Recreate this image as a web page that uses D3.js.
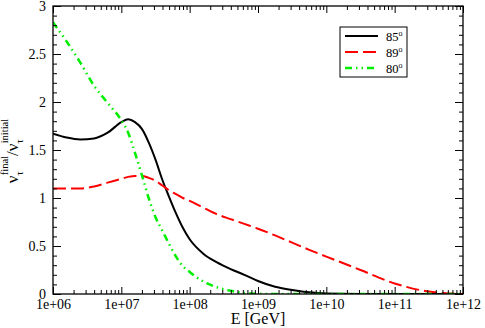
<!DOCTYPE html>
<html>
<head>
<meta charset="utf-8">
<script src="https://cdn.jsdelivr.net/npm/d3@7"></script>
<style>
  body { margin: 0; background: #fff; }
  svg, svg text { font-family: "Liberation Serif", "Times New Roman", serif !important; }
</style>
</head>
<body>
<div id="chart"></div>
<script>
// log10(E / GeV) grid the curves were read on
var logE = [6.0, 6.2, 6.4, 6.6, 6.8, 7.0, 7.1, 7.2, 7.3, 7.4, 7.5, 7.6, 7.7, 7.8, 7.9,
            8.0, 8.2, 8.4, 8.6, 8.8, 9.0, 9.25, 9.5, 9.75, 10.0, 10.5, 11.0, 11.5, 11.75, 12.0];

var ratio85 = [1.67, 1.63, 1.61, 1.62, 1.68, 1.79, 1.82, 1.79, 1.72, 1.58, 1.40, 1.19, 1.01, 0.84, 0.69,
               0.57, 0.42, 0.33, 0.26, 0.20, 0.135, 0.075, 0.042, 0.017, 0.005, 0.001, 0, 0, 0, 0];
var ratio89 = [1.10, 1.10, 1.10, 1.12, 1.16, 1.20, 1.22, 1.23, 1.23, 1.21, 1.18, 1.13, 1.08, 1.04, 1.00,
               0.97, 0.90, 0.83, 0.78, 0.73, 0.68, 0.61, 0.535, 0.46, 0.39, 0.25, 0.11, 0.025, 0.008, 0];
var ratio80 = [2.83, 2.63, 2.41, 2.17, 1.99, 1.81, 1.68, 1.47, 1.24, 1.00, 0.80, 0.66, 0.52, 0.39, 0.29,
               0.23, 0.13, 0.07, 0.033, 0.01, 0.003, 0, 0, 0, 0, 0, 0, 0, 0, 0];

var seriesNames = ["85", "89", "80"];
var xTickLabels = ["1e+06", "1e+07", "1e+08", "1e+09", "1e+10", "1e+11", "1e+12"];
var yTickLabels = ["0", "0.5", "1", "1.5", "2", "2.5", "3"];

var width = 485, height = 328;
var marginTop = 6, marginRight = 22, marginBottom = 34, marginLeft = 53;
var serif = "'Liberation Serif', 'Times New Roman', serif";

var series = [
    {name: seriesNames[0], values: ratio85, color: "#000000", dash: null, lw: 2},
    {name: seriesNames[1], values: ratio89, color: "#ff0000", dash: "13,5", lw: 2},
    {name: seriesNames[2], values: ratio80, color: "#00ee00", dash: "7,4,1.5,4,1.5,4", lw: 2.5}
];

var xTicks = xTickLabels.map(function(s) { return Number(s); });
var yTicks = yTickLabels.map(function(s) { return Number(s); });

var xScale = d3.scaleLog([1e6, 1e12], [marginLeft, width - marginRight]);
var yScale = d3.scaleLinear([0, 3], [height - marginBottom, marginTop]);

var xMinor = [];
for (var d = 6; d < 12; d++) {
    for (var k = 2; k <= 9; k++) xMinor.push(k * Math.pow(10, d));
}
var yMinor = d3.range(0, 3.0001, 0.1).filter(function(v) { return Math.abs(v * 2 - Math.round(v * 2)) > 1e-6; });

var svg = d3.select("#chart").append("svg")
    .attr("width", width)
    .attr("height", height)
    .attr("viewBox", [0, 0, width, height])
    .style("font-family", serif);

// clip curves to plot box
svg.append("clipPath").attr("id", "plotClip")
  .append("rect")
    .attr("x", marginLeft).attr("y", marginTop)
    .attr("width", width - marginLeft - marginRight)
    .attr("height", height - marginTop - marginBottom);

var line = d3.line()
    .x(function(p) { return xScale(Math.pow(10, p[0])); })
    .y(function(p) { return yScale(p[1]); })
    .curve(d3.curveMonotoneX);

svg.append("g").attr("clip-path", "url(#plotClip)")
  .selectAll("path")
  .data(series)
  .join("path")
    .attr("fill", "none")
    .attr("stroke", function(s) { return s.color; })
    .attr("stroke-width", function(s) { return s.lw; })
    .attr("stroke-dasharray", function(s) { return s.dash; })
    .attr("d", function(s) { return line(logE.map(function(e, i) { return [e, s.values[i]]; })); });

// axes: ticks point inward, mirrored on top and right
function styleAxis(g) {
    g.attr("font-family", null).style("font-family", serif);
    g.select(".domain").remove();
    g.selectAll(".tick line").attr("stroke", "#000").attr("stroke-width", 1);
    g.selectAll(".tick text").attr("fill", "#000").attr("font-size", 14)
        .style("font-family", serif);
}

svg.append("g")
    .attr("transform", "translate(0," + yScale(0) + ")")
    .call(d3.axisBottom(xScale).tickValues(xTicks).tickSize(-7).tickPadding(5)
        .tickFormat(function(v, i) { return xTickLabels[i]; }))
    .call(styleAxis);
svg.append("g")
    .attr("transform", "translate(0," + yScale(0) + ")")
    .call(d3.axisBottom(xScale).tickValues(xMinor).tickSize(-4).tickFormat(""))
    .call(styleAxis);
svg.append("g")
    .attr("transform", "translate(0," + yScale(3) + ")")
    .call(d3.axisTop(xScale).tickValues(xTicks).tickSize(-7).tickFormat(""))
    .call(styleAxis);
svg.append("g")
    .attr("transform", "translate(0," + yScale(3) + ")")
    .call(d3.axisTop(xScale).tickValues(xMinor).tickSize(-4).tickFormat(""))
    .call(styleAxis);

svg.append("g")
    .attr("transform", "translate(" + xScale(1e6) + ",0)")
    .call(d3.axisLeft(yScale).tickValues(yTicks).tickSize(-8).tickPadding(7)
        .tickFormat(function(v, i) { return yTickLabels[i]; }))
    .call(styleAxis);
svg.append("g")
    .attr("transform", "translate(" + xScale(1e6) + ",0)")
    .call(d3.axisLeft(yScale).tickValues(yMinor).tickSize(-4).tickFormat(""))
    .call(styleAxis);
svg.append("g")
    .attr("transform", "translate(" + xScale(1e12) + ",0)")
    .call(d3.axisRight(yScale).tickValues(yTicks).tickSize(-8).tickFormat(""))
    .call(styleAxis);
svg.append("g")
    .attr("transform", "translate(" + xScale(1e12) + ",0)")
    .call(d3.axisRight(yScale).tickValues(yMinor).tickSize(-4).tickFormat(""))
    .call(styleAxis);

// frame
svg.append("rect")
    .attr("x", xScale(1e6)).attr("y", yScale(3))
    .attr("width", xScale(1e12) - xScale(1e6))
    .attr("height", yScale(0) - yScale(3))
    .attr("fill", "none").attr("stroke", "#000").attr("stroke-width", 1.3);

// axis titles
svg.append("text")
    .attr("x", (xScale(1e6) + xScale(1e12)) / 2)
    .attr("y", 324)
    .attr("text-anchor", "middle")
    .attr("font-size", 16)
    .text("E [GeV]");

var ylab = svg.append("text")
    .attr("transform", "translate(18,151) rotate(-90)")
    .attr("text-anchor", "middle")
    .attr("font-size", 17);
ylab.append("tspan").text("ν");
ylab.append("tspan").attr("font-size", 10.5).attr("dy", 5).text("τ");
ylab.append("tspan").attr("font-size", 10.5).attr("dx", -4).attr("dy", -15.5).text("final");
ylab.append("tspan").attr("dy", 10.5).text("/ν");
ylab.append("tspan").attr("font-size", 10.5).attr("dy", 5).text("τ");
ylab.append("tspan").attr("font-size", 10.5).attr("dx", -4).attr("dy", -15.5).text("initial");

// legend
var legend = svg.append("g");
legend.append("rect")
    .attr("x", 340).attr("y", 27).attr("width", 67).attr("height", 50)
    .attr("fill", "#fff").attr("stroke", "#000").attr("stroke-width", 1);

var rows = legend.selectAll("g.row")
  .data(series)
  .join("g")
    .attr("class", "row")
    .attr("transform", function(s, i) { return "translate(0," + (36 + i * 16) + ")"; });
rows.append("line")
    .attr("x1", 345).attr("x2", 378)
    .attr("stroke", function(s) { return s.color; })
    .attr("stroke-width", function(s) { return s.lw; })
    .attr("stroke-dasharray", function(s) { return s.dash; });
var lt = rows.append("text")
    .attr("x", 386).attr("y", 5)
    .attr("font-size", 12.5);
lt.append("tspan").text(function(s) { return s.name; });
lt.append("tspan").attr("font-size", 8).attr("dy", -5).text("o");
</script>
</body>
</html>
